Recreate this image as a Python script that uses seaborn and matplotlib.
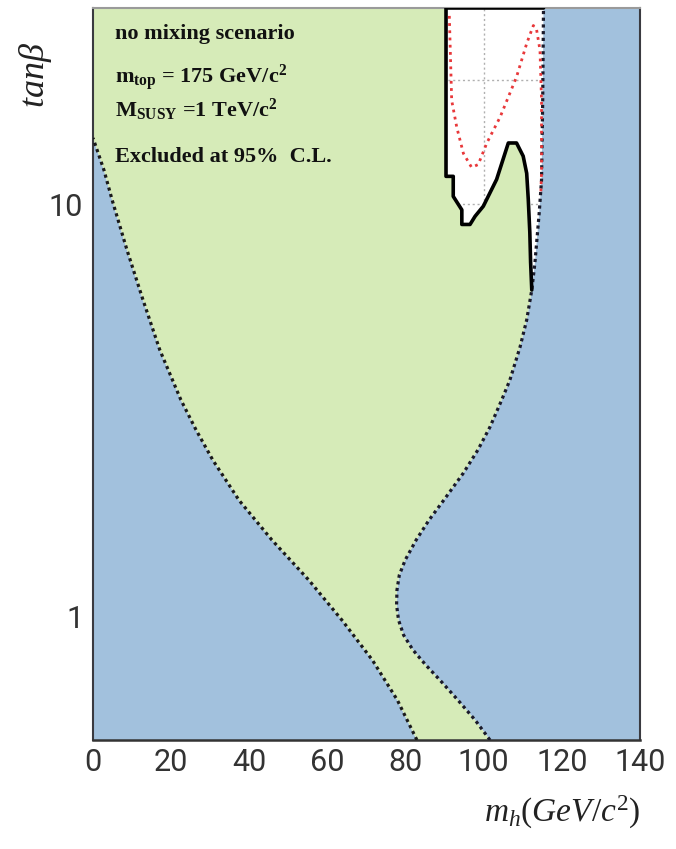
import numpy as np
import pandas as pd
import matplotlib
matplotlib.use("Agg")
import matplotlib.pyplot as plt
from matplotlib.ticker import FixedLocator, NullLocator, FixedFormatter
import seaborn as sns

# ---- data: contour points (m_h in GeV/c^2, tan(beta)) ----
# left edge of the theoretically allowed band (bottom -> top)
left_mh = [82.9, 77.9, 71.5, 63.7, 55.2, 45.8, 37.4, 30.7, 26.4, 22.5, 17.1,
           12.8, 8.7, 4.9, 2.8, 0.0]
left_tb = [0.50, 0.625, 0.782, 0.978, 1.224, 1.53, 1.91, 2.39, 2.83, 3.35, 4.43,
           5.86, 7.75, 10.25, 12.12, 14.5]

# right edge of the theoretically allowed band (bottom -> top)
right_mh = [101.6, 97.8, 93.4, 88.8, 85.2, 81.9, 79.5, 78.2, 77.7, 77.8, 78.4,
            79.9, 82.7, 86.0, 89.8, 94.8, 98.5, 101.6, 104.6, 106.7, 109.3,
            111.0, 112.3, 113.1, 114.2, 114.8, 115.1, 115.3]
right_tb = [0.50, 0.559, 0.625, 0.699, 0.760, 0.827, 0.899, 0.978, 1.064, 1.157,
            1.258, 1.368, 1.530, 1.711, 1.914, 2.226, 2.532, 2.879, 3.349, 3.745,
            4.504, 5.240, 6.196, 7.206, 9.531, 11.46, 17.93, 30.0]

# observed 95% C.L. exclusion contour (solid black)
excl_mh = [115.3, 90.35, 90.35, 92.2, 92.2, 94.4, 94.4, 96.5, 97.8, 99.9, 103.3,
           106.3, 108.4, 110.1, 111.0, 111.4, 111.8, 112.0, 112.3]
excl_tb = [30.0, 30.0, 11.7, 11.7, 10.46, 9.70, 8.94, 8.94, 9.36, 9.90, 11.5,
           14.1, 14.1, 13.1, 11.9, 10.3, 8.55, 7.24, 6.196]

# expected exclusion contour (red dotted)
exp_mh = [91.2, 91.8, 93.1, 94.8, 96.9, 98.6, 100.8, 104.2, 108.4, 111.0, 112.7,
          113.5, 114.4, 114.8, 114.8, 114.6]
exp_tb = [28.7, 17.9, 15.4, 13.3, 12.3, 12.5, 14.1, 16.3, 20.4, 24.6, 27.2,
          26.7, 23.7, 17.9, 12.0, 10.5]

x_ticks = [0, 20, 40, 60, 80, 100, 120, 140]
y_ticks = [1, 10]
y_tick_labels = ["1", "10"]
X_MIN, X_MAX = 0, 140
Y_MIN, Y_MAX = 0.5, 30

BLUE = "#a2c1dd"
GREEN = "#d6ebb8"

sns.set_theme(style="white")
plt.rcParams["font.family"] = ["Roboto", "Liberation Sans", "DejaVu Sans"]
plt.rcParams["font.weight"] = "normal"
plt.rcParams["mathtext.fontset"] = "custom"
plt.rcParams["mathtext.rm"] = "Liberation Serif"
plt.rcParams["mathtext.it"] = "Liberation Serif:italic"
plt.rcParams["mathtext.bf"] = "Liberation Serif:bold"

fig = plt.figure(figsize=(6.76, 8.49), dpi=100)
ax = fig.add_axes([93 / 676, 1 - 740 / 849, 547 / 676, 732 / 849])
ax.set_yscale("log")
ax.set_xlim(X_MIN, X_MAX)
ax.set_ylim(Y_MIN, Y_MAX)

left = pd.DataFrame({"mh": left_mh, "tb": left_tb})
right = pd.DataFrame({"mh": right_mh, "tb": right_tb})
excl = pd.DataFrame({"mh": excl_mh, "tb": excl_tb})
expd = pd.DataFrame({"mh": exp_mh, "tb": exp_tb})

# theoretically inaccessible regions
ax.fill([X_MIN] + left_mh, [Y_MIN] + left_tb, color=BLUE, lw=0, zorder=1)
ax.fill(right_mh + [X_MAX, X_MAX], right_tb + [Y_MAX, Y_MIN], color=BLUE, lw=0, zorder=1)

# allowed, not excluded: left edge, top, exclusion contour, right edge below the join
merge_tb = excl_tb[-1]
low_right = right[right.tb < merge_tb].iloc[::-1]
g_x = left_mh + [X_MIN] + excl_mh[1:] + list(low_right.mh)
g_y = left_tb + [Y_MAX] + excl_tb[1:] + list(low_right.tb)
ax.fill(g_x, g_y, color=GREEN, lw=0, zorder=1)

# contour lines
dots = (0, (1, 1.1))
sns.lineplot(data=left, x="mh", y="tb", sort=False, estimator=None, ax=ax,
             color="#1a1a1a", lw=2.3, linestyle=dots, zorder=3)
sns.lineplot(data=right, x="mh", y="tb", sort=False, estimator=None, ax=ax,
             color="#1a1a2a", lw=2.3, linestyle=dots, zorder=3)
sns.lineplot(data=expd, x="mh", y="tb", sort=False, estimator=None, ax=ax,
             color="#e8383a", lw=2.0, linestyle=(0, (1, 1.6)), zorder=3)
sns.lineplot(data=excl, x="mh", y="tb", sort=False, estimator=None, ax=ax,
             color="black", lw=2.6, zorder=4)

# axes, ticks and grid
ax.xaxis.set_major_locator(FixedLocator(x_ticks))
ax.xaxis.set_minor_locator(NullLocator())
ax.yaxis.set_major_locator(FixedLocator(y_ticks))
ax.yaxis.set_major_formatter(FixedFormatter(y_tick_labels))
ax.yaxis.set_minor_locator(FixedLocator([20]))
ax.yaxis.set_minor_formatter(FixedFormatter([""]))
ax.tick_params(which="both", length=0)
ax.tick_params(axis="x", pad=6, labelsize=22, labelcolor="#333333")
ax.tick_params(axis="y", pad=7, labelsize=22, labelcolor="#333333")
ax.set_axisbelow(True)
ax.grid(True, which="both", color="#b0b0b0", linestyle=(0, (1.5, 2)), lw=1.0)
ax.set_xlabel("")
ax.set_ylabel("")

for side in ("left", "right"):
    ax.spines[side].set_color("#3a3a40")
    ax.spines[side].set_linestyle((0, (2, 1)))
    ax.spines[side].set_linewidth(1.5)
ax.spines["bottom"].set_color("#333333")
ax.spines["bottom"].set_linewidth(1.8)
ax.spines["top"].set_color("#9a9a9a")
ax.spines["top"].set_linewidth(1.5)

# annotations
txt = dict(family="Liberation Serif", fontweight="bold", fontsize=16,
           color="#111111", transform=fig.transFigure, ha="left", va="center")
fig.text(115 / 676, 1 - 34 / 849, "no mixing scenario", **txt)
fig.text(115 / 676, 1 - 78 / 849,
         r"m$_{\mathbf{top}}$ = 175 GeV/c$^{\mathbf{2}}$", **txt)
fig.text(115 / 676, 1 - 110 / 849,
         r"M$_{\mathbf{SUSY}}$ =1 TeV/c$^{\mathbf{2}}$", **txt)
fig.text(115 / 676, 1 - 157 / 849, "Excluded at 95%  C.L.", **txt)

# axis titles
fig.text(36 / 676, 1 - 75 / 849, r"$tan\beta$", rotation=90, ha="center",
         va="center", fontsize=26, color="#222222")
fig.text(640 / 676, 1 - 812 / 849, r"$m_h(GeV/c^2)$", ha="right",
         va="center", fontsize=24, color="#222222")

fig.savefig("out.png", dpi=100)
